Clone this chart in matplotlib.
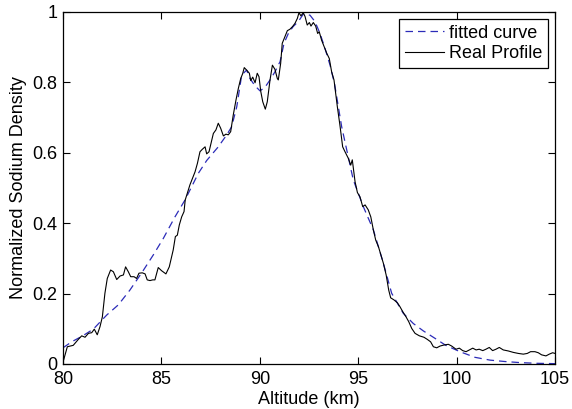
import matplotlib
matplotlib.use("Agg")
import matplotlib.pyplot as plt
from matplotlib.ticker import FixedLocator, FixedFormatter

plt.rcParams['font.family'] = ['Liberation Sans', 'DejaVu Sans']

# Real profile (altitude km, normalized density)
real_alt = [80.00, 80.10, 80.22, 80.52, 80.78, 80.95, 81.12, 81.29, 81.46, 81.59, 81.74,
            81.88, 82.00, 82.13, 82.25, 82.42, 82.56, 82.73, 82.90, 83.07, 83.18, 83.32,
            83.44, 83.61, 83.74, 83.86, 84.03, 84.17, 84.28, 84.42, 84.56, 84.67, 84.84,
            85.01, 85.23, 85.40, 85.60, 85.71, 85.81, 85.91, 86.03, 86.15, 86.21,
            86.45, 86.71, 86.83, 86.96, 87.08, 87.22, 87.30, 87.42, 87.52, 87.64, 87.77,
            87.89, 88.01, 88.15, 88.28, 88.40, 88.52, 88.65, 88.79, 88.91, 89.03, 89.13,
            89.21, 89.33, 89.47, 89.54, 89.64, 89.76, 89.87, 89.96, 90.05, 90.15, 90.28,
            90.38, 90.52, 90.64, 90.77, 90.89, 90.94, 91.06, 91.14, 91.28, 91.40, 91.53,
            91.67, 91.79, 91.91, 91.99, 92.09, 92.21, 92.30, 92.41, 92.52, 92.60, 92.72,
            92.84, 92.94, 93.02, 93.14, 93.26, 93.40, 93.53, 93.65, 93.77,
            93.94, 94.07, 94.21, 94.33, 94.50, 94.62, 94.70, 94.84, 94.96, 95.09, 95.23,
            95.35, 95.51, 95.64, 95.77, 95.89, 96.03, 96.15, 96.28, 96.42, 96.55, 96.65,
            96.82, 96.99, 97.12, 97.26, 97.43, 97.57, 97.72, 97.89, 98.11, 98.34, 98.51,
            98.68, 98.82, 98.99, 99.16, 99.36, 99.58,
            99.75, 99.97, 100.14, 100.31, 100.48, 100.65, 100.82, 100.99, 101.15, 101.33,
            101.49, 101.66, 101.83, 102.00, 102.17, 102.37, 102.63, 102.88, 103.14, 103.39,
            103.59, 103.76, 103.98, 104.15, 104.32, 104.54, 104.71, 104.88, 105.00]
real_val = [0.005, 0.025, 0.049, 0.053, 0.070, 0.080, 0.076, 0.087, 0.089, 0.099, 0.083,
            0.106, 0.134, 0.201, 0.243, 0.267, 0.262, 0.240, 0.250, 0.253, 0.276, 0.262,
            0.248, 0.248, 0.243, 0.258, 0.259, 0.256, 0.239, 0.237, 0.239, 0.239, 0.274,
            0.265, 0.256, 0.276, 0.324, 0.362, 0.366, 0.395, 0.418, 0.433, 0.466,
            0.509, 0.546, 0.570, 0.603, 0.610, 0.617, 0.597, 0.603, 0.627, 0.655, 0.665,
            0.684, 0.670, 0.648, 0.653, 0.651, 0.660, 0.707, 0.750, 0.783, 0.811, 0.825,
            0.842, 0.835, 0.826, 0.805, 0.815, 0.799, 0.826, 0.816, 0.774, 0.745, 0.724,
            0.745, 0.807, 0.849, 0.837, 0.811, 0.807, 0.854, 0.911, 0.930, 0.947, 0.951,
            0.959, 0.968, 0.982, 0.998, 0.989, 0.998, 0.987, 0.963, 0.970, 0.960, 0.970,
            0.960, 0.939, 0.944, 0.920, 0.903, 0.883, 0.868, 0.830, 0.807,
            0.731, 0.679, 0.617, 0.603, 0.584, 0.565, 0.580, 0.518, 0.487, 0.475, 0.447,
            0.452, 0.438, 0.418, 0.381, 0.352, 0.333, 0.310, 0.286, 0.253, 0.210, 0.188,
            0.182, 0.174, 0.163, 0.149, 0.134, 0.120, 0.101, 0.087, 0.080, 0.076, 0.070,
            0.063, 0.049, 0.046, 0.051, 0.054, 0.056,
            0.051, 0.042, 0.045, 0.038, 0.035, 0.040, 0.045, 0.040, 0.042, 0.038,
            0.042, 0.047, 0.038, 0.042, 0.047, 0.040, 0.037, 0.033, 0.030, 0.028,
            0.030, 0.035, 0.035, 0.032, 0.026, 0.023, 0.028, 0.032, 0.030]

# Fitted curve
fit_alt = [80.00, 80.44, 81.00, 81.54, 82.22, 82.81, 83.40, 84.00, 84.59, 85.10, 85.69,
           86.20, 86.45, 86.88, 87.30, 87.89, 88.32, 88.57, 88.83, 89.08, 89.33, 89.50,
           89.76, 90.01, 90.26, 90.52, 90.77, 91.03, 91.23, 91.45, 91.70, 91.96, 92.21,
           92.55, 92.80, 93.06, 93.31, 93.57, 93.80, 94.16, 94.75, 95.26, 95.77, 96.28,
           96.70, 97.29, 97.80, 98.31, 98.90, 99.45, 100.17, 100.93, 101.70, 102.46,
           103.22, 104.07, 105.00]
fit_val = [0.046, 0.063, 0.080, 0.099, 0.139, 0.168, 0.210, 0.259, 0.310, 0.357, 0.418,
           0.466, 0.494, 0.542, 0.578, 0.617, 0.651, 0.674, 0.731, 0.821, 0.835, 0.811,
           0.790, 0.776, 0.786, 0.807, 0.830, 0.859, 0.911, 0.939, 0.959, 0.973, 0.994,
           0.991, 0.973, 0.939, 0.897, 0.849, 0.795, 0.674, 0.523, 0.447, 0.381, 0.286,
           0.201, 0.144, 0.115, 0.094, 0.073, 0.053, 0.035, 0.019, 0.011, 0.007,
           0.004, 0.002, 0.001]

x_ticks = [80, 85, 90, 95, 100, 105]
y_ticks = [0, 0.2, 0.4, 0.6, 0.8, 1.0]
y_tick_labels = ['0', '0.2', '0.4', '0.6', '0.8', '1']

fig = plt.figure(figsize=(5.72, 4.09), dpi=100)
ax = fig.add_axes([63/572, 1 - 364/409, (555-63)/572, (364-12)/409])

ax.plot(fit_alt, fit_val, linestyle=(0, (6, 4)), color='#2b2bb8', linewidth=0.9,
        label='fitted curve')
ax.plot(real_alt, real_val, color='black', linewidth=0.8, label='Real Profile')

ax.set_xlim(80, 105)
ax.set_ylim(0, 1)
ax.xaxis.set_major_locator(FixedLocator(x_ticks))
ax.yaxis.set_major_locator(FixedLocator(y_ticks))
ax.yaxis.set_major_formatter(FixedFormatter(y_tick_labels))
ax.tick_params(direction='in', length=5, width=0.8, top=True, right=True,
               labelsize=13, colors='black')
ax.tick_params(axis='x', pad=5)
ax.tick_params(axis='y', pad=4)
for s in ax.spines.values():
    s.set_linewidth(0.9)

ax.set_xlabel('Altitude (km)', fontsize=13, labelpad=2)
ax.set_ylabel('Normalized Sodium Density', fontsize=13, labelpad=4)

leg = ax.legend(loc='upper right', fontsize=13, frameon=True, fancybox=False,
                edgecolor='black', framealpha=1, handlelength=2.2, handletextpad=0.25,
                borderpad=0.3, labelspacing=0.2, borderaxespad=0.4)
leg.get_frame().set_linewidth(0.9)

fig.savefig('out.png', dpi=100)
